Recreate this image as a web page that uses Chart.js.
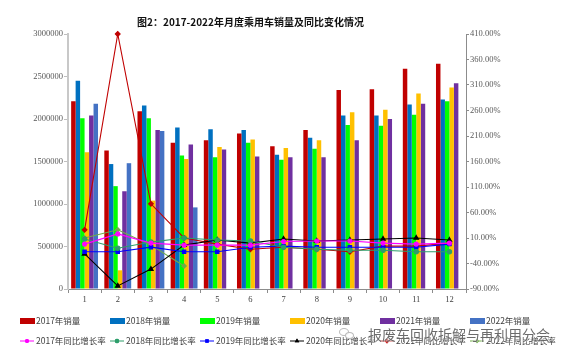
<!DOCTYPE html>
<html>
<head>
<meta charset="utf-8">
<script src="https://cdn.jsdelivr.net/npm/chart.js@4"></script>
<style>
  html, body { margin: 0; padding: 0; background: #fff; }
  #wrap { position: relative; width: 567px; height: 361px; overflow: hidden; }
  #title { position: absolute; left: 0; top: 15px; width: 501px; text-align: center;
    font: bold 10px "Noto Sans CJK SC"; color: #111; line-height: 14px; }
  .lg { position: absolute; font: 8.5px "Noto Sans CJK SC"; color: #404040; white-space: nowrap; line-height: 12px; }
  .lg canvas { position: absolute; left: -17px; top: 1px; }
  #mark { position: absolute; left: 368px; top: 324px; font: 14px "Noto Sans CJK SC"; color: rgba(70,70,70,.8);
    text-shadow: 0 0 2px #fff, 0 0 2px #fff; white-space: nowrap; }
  .bub { position: absolute; border: 1px solid #bbb; border-radius: 50%; background: rgba(255,255,255,.8); }
</style>
</head>
<body>
<div id="wrap">
  <canvas id="chart" width="567" height="361"></canvas>
  <div id="title">图2：2017-2022年月度乘用车销量及同比变化情况</div>
  <div id="legend"></div>
  <div class="bub" style="left:339px;top:328px;width:8px;height:6px"></div>
  <div class="bub" style="left:345px;top:332px;width:7px;height:5px"></div>
  <div id="mark">报废车回收拆解与再利用分会</div>
</div>
<script>
const months = ["1","2","3","4","5","6","7","8","9","10","11","12"];

// 销量
const sales2017 = [2210000,1630000,2090000,1720000,1750000,1830000,1680000,1870000,2340000,2350000,2590000,2650000];
const sales2018 = [2450000,1470000,2160000,1900000,1880000,1870000,1580000,1780000,2040000,2040000,2170000,2230000];
const sales2019 = [2010000,1210000,2010000,1570000,1550000,1720000,1520000,1650000,1930000,1920000,2050000,2210000];
const sales2020 = [1610000,220000,1040000,1530000,1670000,1760000,1660000,1750000,2080000,2110000,2300000,2370000];
const sales2021 = [2040000,1150000,1870000,1700000,1640000,1560000,1550000,1550000,1750000,2000000,2180000,2420000];
const sales2022 = [2180000,1480000,1860000,960000];

// 同比增长率 (%)
const rate2017 = [-2,18,0,-4,-4,-4,3,4,4,0,-2,0];
const rate2018 = [8,-10,2,10,6,4,-8,-12,-14,-14,-17,-17];
const rate2019 = [-17,-17,-8,-17,-17,-8,-6,-8,-8,-8,-8,-2];
const rate2020 = [-21,-84,-51,-4,6,0,8,4,6,8,10,6];
const rate2021 = [26,410,77,10,-2,-12,-8,-12,-17,-6,-6,0];
const rate2022 = [10,26,-4,-45];

const barColors = ["#C00000","#0070C0","#00FF00","#FFC000","#7030A0","#4472C4"];
const barNames = ["2017年销量","2018年销量","2019年销量","2020年销量","2021年销量","2022年销量"];
const lineColors = ["#FF00FF","#2E9E6B","#0000FF","#000000","#C00000","#70AD47"];
const lineStyles = ["circle","circle","rect","triangle","rectRot","rectRot"];
const lineRadius = [2,2.2,2.4,2.6,2.4,2.2];
const lineNames = ["2017年同比增长率","2018年同比增长率","2019年同比增长率","2020年同比增长率","2021年同比增长率","2022年同比增长率"];

const barData = [sales2017,sales2018,sales2019,sales2020,sales2021,sales2022];
const lineData = [rate2017,rate2018,rate2019,rate2020,rate2021,rate2022];

const datasets = [];
barData.forEach((d, i) => {
  datasets.push({
    type: "bar", label: barNames[i], data: d, yAxisID: "y", order: 2,
    backgroundColor: barColors[i], categoryPercentage: 0.81, barPercentage: 1
  });
});
lineData.forEach((d, i) => {
  datasets.push({
    type: "line", label: lineNames[i], data: d, yAxisID: "y1", order: 1,
    borderColor: lineColors[i], backgroundColor: lineColors[i], borderWidth: 1.1,
    pointStyle: lineStyles[i], pointRadius: lineRadius[i], tension: 0, clip: false
  });
});

const tickFont = { family: "Liberation Serif", size: 8.5 };

new Chart(document.getElementById("chart").getContext("2d"), {
  data: { labels: months, datasets: datasets },
  options: {
    responsive: false,
    animation: false,
    layout: { padding: { top: 34, bottom: 52, left: 0, right: 0 } },
    plugins: { legend: { display: false }, title: { display: false }, tooltip: { enabled: false } },
    scales: {
      x: {
        grid: { drawOnChartArea: false, tickLength: 4, color: "#8c8c8c" },
        border: { color: "#8c8c8c" },
        ticks: { color: "#404040", font: tickFont, maxRotation: 0, padding: 2 },
        afterFit(s) { s.height = 20; }
      },
      y: {
        position: "left", min: 0, max: 3000000,
        grid: { drawOnChartArea: false, tickLength: 4, color: "#bfbfbf" },
        border: { color: "#c8c8c8", width: 2 },
        ticks: { stepSize: 500000, color: "#595959", font: tickFont, padding: 1,
          callback: v => String(v) },
        afterFit(s) { s.width = 68; }
      },
      y1: {
        position: "right", min: -90, max: 410,
        grid: { drawOnChartArea: false, tickLength: 3, color: "#8c8c8c" },
        border: { color: "#8c8c8c" },
        ticks: { stepSize: 50, color: "#595959", font: tickFont, padding: 1,
          callback: v => v.toFixed(2) + "%" },
        afterFit(s) { s.width = 101; }
      }
    }
  }
});

// 图例
const legend = document.getElementById("legend");
function addLegend(name, x, y, draw) {
  const el = document.createElement("div");
  el.className = "lg";
  el.style.left = x + "px";
  el.style.top = y + "px";
  el.textContent = name;
  const c = document.createElement("canvas");
  c.width = 16; c.height = 12;
  draw(c.getContext("2d"));
  el.appendChild(c);
  legend.appendChild(el);
}
barNames.forEach((name, i) => {
  addLegend(name, 36 + i * 90, 314, ctx => {
    ctx.fillStyle = barColors[i];
    ctx.fillRect(1, 3, 15, 6);
  });
});
lineNames.forEach((name, i) => {
  addLegend(name, 36 + i * 90, 334, ctx => {
    ctx.strokeStyle = lineColors[i];
    ctx.lineWidth = 1;
    ctx.beginPath(); ctx.moveTo(1, 6); ctx.lineTo(15, 6); ctx.stroke();
    ctx.fillStyle = lineColors[i];
    Chart.helpers.drawPoint(ctx, { pointStyle: lineStyles[i], radius: lineRadius[i], rotation: 0 }, 8, 6);
    ctx.fill();
  });
});
</script>
</body>
</html>
